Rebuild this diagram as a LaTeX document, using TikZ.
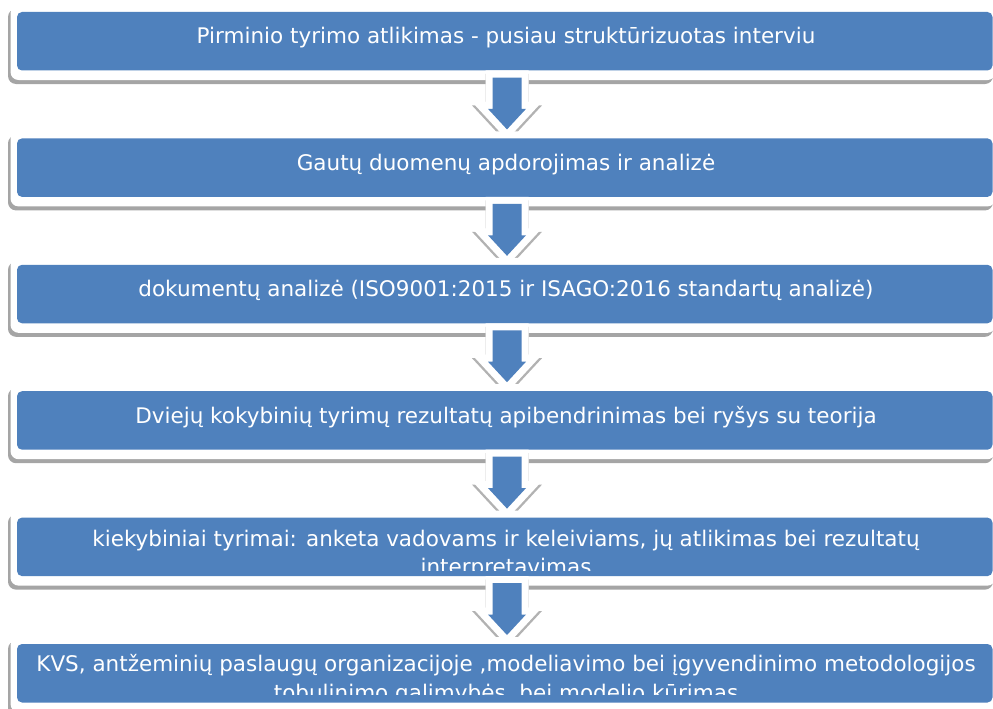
\documentclass[tikz,border=0pt]{standalone}
\usepackage{fontspec}
\setmainfont{DejaVu Sans}
\usetikzlibrary{calc}

\definecolor{boxblue}{RGB}{79,129,189}
\definecolor{framegray}{RGB}{165,165,165}
\definecolor{arrowgray}{RGB}{178,178,178}

\tikzset{
  stageslot/.style={minimum width=975.5pt, minimum height=58.5pt, inner sep=0pt, outer sep=0pt},
  stagetext/.style={text=white, font=\fontsize{21.5}{26}\selectfont, inner sep=0pt, anchor=base},
  framefill/.style={rounded corners=8pt},
  bluefill/.style={fill=boxblue, rounded corners=5pt},
  arrowrim/.style={line width=14pt, line join=miter},
}

% place the named slot of a stage
\newcommand\stageat[2]{\path (504.75,#2) node[stageslot] (#1) {};}

% paint a stage: shadow, white bevel frame and blue face
\newcommand\stageface[1]{%
  \fill[framegray, framefill] ($(#1.north west)+(-9,-3)$) rectangle ($(#1.south east)+(0.5,13.5)$);
  \fill[white, framefill] ($(#1.north west)+(-6.5,-7)$) rectangle ($(#1.south east)+(3,9.5)$);
  \fill[bluefill] (#1.north west) rectangle (#1.south east);
}

% block arrow from one stage down to the next
\newcommand\flowarrow[2]{%
  \coordinate (#1-top) at ($(#1.south)+(2.25,7)$);
  \coordinate (#1-tip) at ($(#2.north)+(2.25,-9)$);
  \def\arrowoutline{($(#1-top)+(-14.5,0)$) -- ($(#1-tip)+(-14.5,-20.5)$) --
    ($(#1-tip)+(-19,-20.5)$) -- (#1-tip) -- ($(#1-tip)+(19,-20.5)$) --
    ($(#1-tip)+(14.5,-20.5)$) -- ($(#1-top)+(14.5,0)$) -- cycle}%
  \filldraw[arrowgray, arrowrim, transform canvas={shift={(0,3.5)}}] \arrowoutline;
  \filldraw[white, arrowrim] \arrowoutline;
  \fill[boxblue] \arrowoutline;
}

\begin{document}
\begin{tikzpicture}[x=1pt, y=-1pt]
\useasboundingbox (0,0) rectangle (993,709);
\clip (0,0) rectangle (993,709);

\stageat{b1}{41.25}
\stageat{b2}{167.65}
\stageat{b3}{294.05}
\stageat{b4}{420.45}
\stageat{b5}{546.85}
\stageat{b6}{673.25}

\stageface{b1}
\node[stagetext] (t1) at (506,44) {Pirminio tyrimo atlikimas - pusiau struktūrizuotas interviu};
\flowarrow{b1}{b2}

\stageface{b2}
\node[stagetext] (t2) at (506,170.4) {Gautų duomenų apdorojimas ir analizė};
\flowarrow{b2}{b3}

\stageface{b3}
\node[stagetext] (t3) at (506,296.8) {dokumentų analizė (ISO9001:2015 ir ISAGO:2016 standartų analizė)};
\flowarrow{b3}{b4}

\stageface{b4}
\node[stagetext] (t4) at (506,423.2) {Dviejų kokybinių tyrimų rezultatų apibendrinimas bei ryšys su teorija};
\flowarrow{b4}{b5}

\stageface{b5}
\begin{scope}
  \clip (b5.north west) rectangle ($(b5.south east)+(0,-6)$);
  \node[stagetext] (t5a) at (506,546.7) {kiekybiniai tyrimai: anketa vadovams ir keleiviams, jų atlikimas bei rezultatų};
  \node[stagetext] (t5b) at (506,574.5) {interpretavimas};
\end{scope}
\flowarrow{b5}{b6}

\stageface{b6}
\begin{scope}
  \clip (b6.north west) rectangle ($(b6.south east)+(0,-8.5)$);
  \node[stagetext] (t6a) at (506,671.7) {KVS, antžeminių paslaugų organizacijoje ,modeliavimo bei įgyvendinimo metodologijos};
  \node[stagetext] (t6b) at (506,700) {tobulinimo galimybės, bei modelio kūrimas};
\end{scope}
\end{tikzpicture}
\end{document}
